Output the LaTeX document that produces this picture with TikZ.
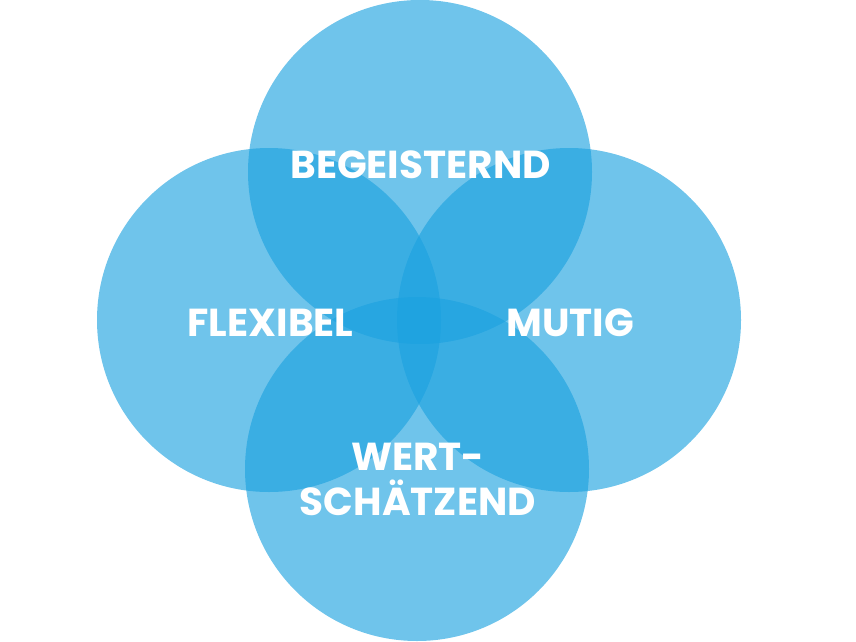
\documentclass[tikz,border=0pt]{standalone}
\usepackage{fontspec}
\usepackage{tikz}
\newfontfamily\labelfont{Poppins}
\definecolor{petalblue}{RGB}{27,161,223}

\begin{document}
\begin{tikzpicture}[
        x=1pt, y=-1pt,
        petal/.style={circle, fill=petalblue, fill opacity=0.63, minimum size=344pt, inner sep=0pt},
        word/.style={text=white, align=center, inner sep=0pt, font=\labelfont\bfseries\fontsize{39}{45}\selectfont}
    ]
    \useasboundingbox (0,0) rectangle (856,642);

    % Circles
    \node[petal] (top) at (420,172) {};
    \node[petal] (left) at (269,320) {};
    \node[petal] (right) at (569,320) {};
    \node[petal] (bottom) at (417,469) {};

    % Words
    \node[word] (begeisternd) at (420.5,165) {BEGEISTERND};
    \node[word] (flexibel) at (270.5,323) {FLEXIBEL};
    \node[word] (mutig) at (570,323) {MUTIG};
    \node[word] (wert) at (418,479) {WERT-\\SCHÄTZEND};

\end{tikzpicture}
\end{document}
